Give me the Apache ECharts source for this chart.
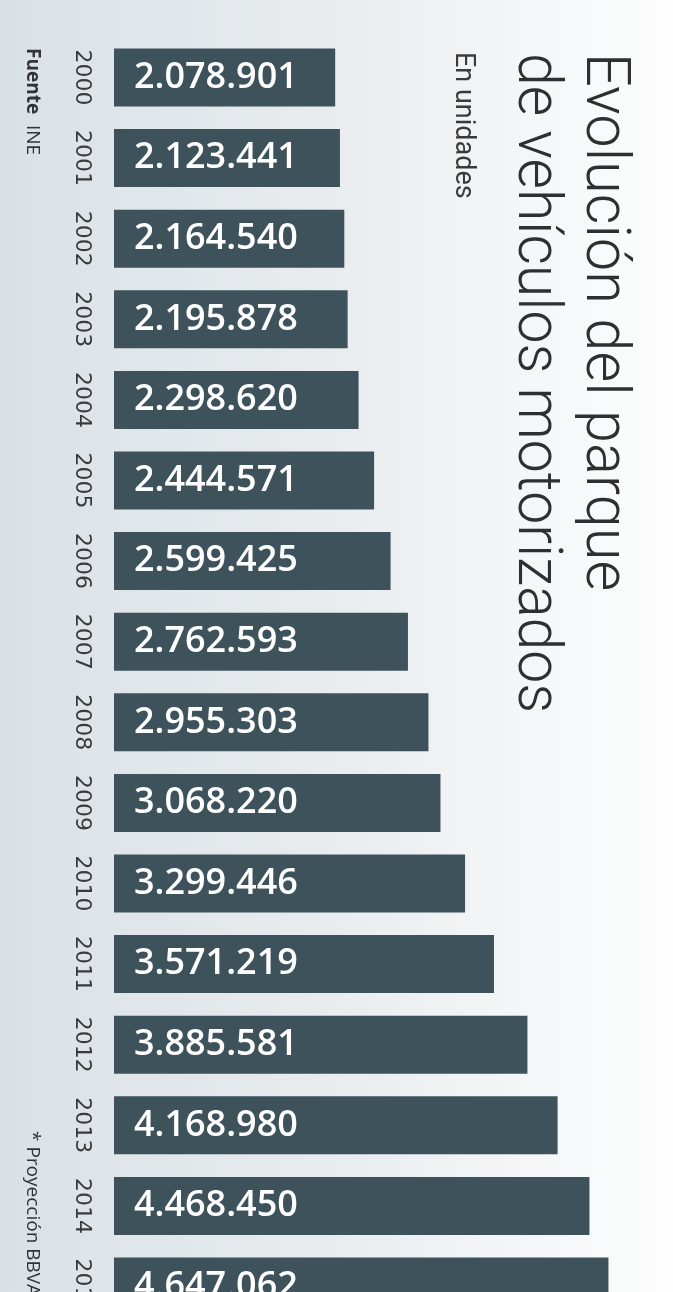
<!DOCTYPE html>
<html>
<head>
<meta charset="utf-8">
<script src="https://cdn.jsdelivr.net/npm/echarts@6/dist/echarts.min.js"></script>
<style>
  html, body { margin: 0; padding: 0; overflow: hidden; }
  /* the last bar runs past the bottom edge of the page */
  #chart { width: 673px; height: 1340px; }
</style>
</head>
<body>
<div id="chart"></div>
<script>
// Parque de vehículos motorizados, 2000-2015 (2015: proyección)
const years = ['2000', '2001', '2002', '2003', '2004', '2005', '2006', '2007',
               '2008', '2009', '2010', '2011', '2012', '2013', '2014', '2015'];
const vehicles = [2078901, 2123441, 2164540, 2195878, 2298620, 2444571, 2599425, 2762593,
                  2955303, 3068220, 3299446, 3571219, 3885581, 4168980, 4468450, 4647062];

const titleLines = ['Evolución del parque', 'de vehículos motorizados'];
const subtitle = 'En unidades';
const sourceText = 'Fuente';
const sourceName = 'INE';
const footnote = '* Proyección BBVA';

// thousands separated with dots, as in Spanish
function fmt(v) {
  return String(v).replace(/\B(?=(\d{3})+(?!\d))/g, '.');
}

const chart = echarts.init(document.getElementById('chart'), null, { renderer: 'canvas' });

const ROT = -Math.PI / 2; // text reading top to bottom

chart.setOption({
  animation: false,
  backgroundColor: {
    type: 'linear', x: 0, y: 0, x2: 1, y2: 0,
    colorStops: [
      { offset: 0, color: '#dae1e6' },
      { offset: 0.45, color: '#e7ebee' },
      { offset: 0.85, color: '#f7f8f9' },
      { offset: 1, color: '#fdfdfd' }
    ]
  },
  grid: { left: 114, top: 37.2, width: 532, height: 1289.6, containLabel: false },
  xAxis: {
    type: 'value', min: 0, max: 5000000,
    show: false
  },
  yAxis: {
    type: 'category',
    data: years,
    inverse: true,
    axisLine: { show: false },
    axisTick: { show: false },
    splitLine: { show: false },
    axisLabel: {
      interval: 0,
      rotate: -90,
      margin: 21,
      fontFamily: 'DejaVu Sans',
      fontSize: 22,
      color: '#3a3a3a'
    }
  },
  series: [{
    type: 'bar',
    data: vehicles,
    barWidth: 58,
    itemStyle: { color: '#3e525c' },
    label: {
      show: true,
      position: 'insideLeft',
      distance: 20,
      formatter: p => fmt(p.value),
      fontFamily: 'Open Sans',
      fontWeight: 600,
      fontSize: 36,
      color: '#ffffff'
    }
  }],
  graphic: [
    {
      type: 'text', x: 602, y: 53, rotation: ROT, scaleX: 0.96,
      style: { text: titleLines[0], fontFamily: 'Roboto', fontWeight: 300, fontSize: 62,
               fill: '#2f2f2f', align: 'left', verticalAlign: 'middle' }
    },
    {
      type: 'text', x: 534, y: 53, rotation: ROT, scaleX: 0.95,
      style: { text: titleLines[1], fontFamily: 'Roboto', fontWeight: 300, fontSize: 62,
               fill: '#2f2f2f', align: 'left', verticalAlign: 'middle' }
    },
    {
      type: 'text', x: 462.5, y: 52, rotation: ROT,
      style: { text: subtitle, fontFamily: 'Roboto', fontSize: 27,
               fill: '#3a3a3a', align: 'left', verticalAlign: 'middle' }
    },
    {
      type: 'text', x: 32.5, y: 48, rotation: ROT,
      style: { text: sourceText, fontFamily: 'Open Sans', fontWeight: 700, fontSize: 19,
               fill: '#333333', align: 'left', verticalAlign: 'middle' }
    },
    {
      type: 'text', x: 32.5, y: 125, rotation: ROT,
      style: { text: sourceName, fontFamily: 'Open Sans', fontSize: 19,
               fill: '#333333', align: 'left', verticalAlign: 'middle' }
    },
    {
      type: 'text', x: 32.5, y: 1131, rotation: ROT,
      style: { text: footnote, fontFamily: 'Open Sans', fontSize: 19,
               fill: '#333333', align: 'left', verticalAlign: 'middle' }
    }
  ]
});
</script>
</body>
</html>
